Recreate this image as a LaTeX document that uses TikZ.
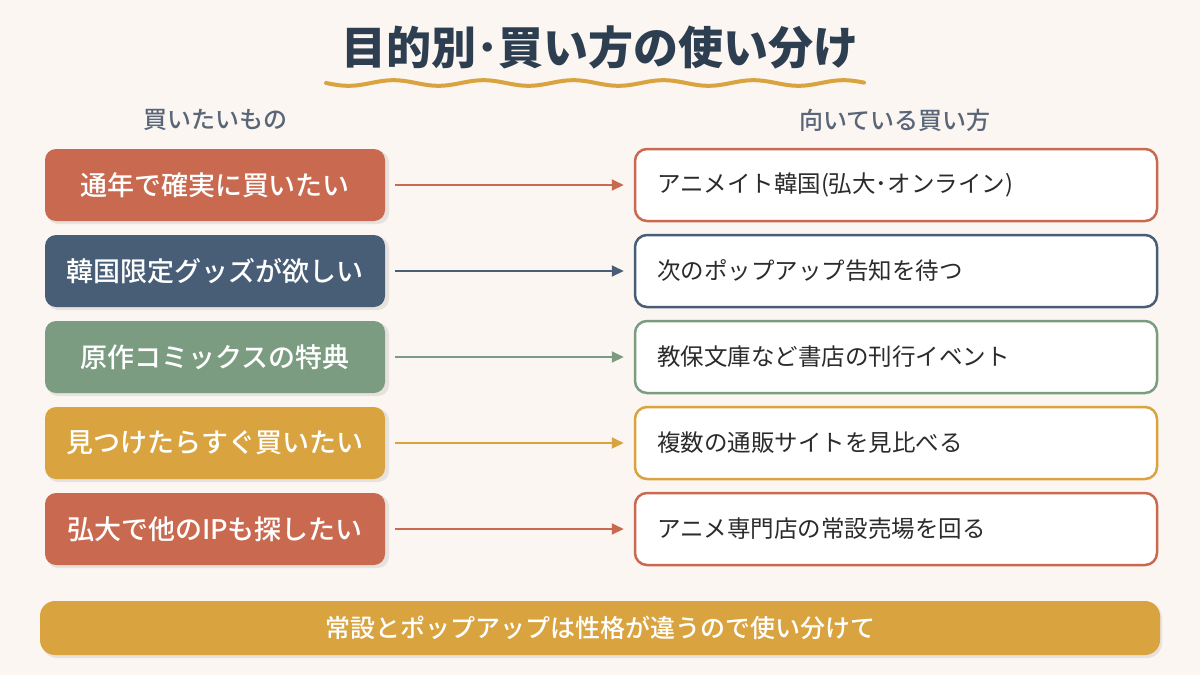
\documentclass[tikz,border=0pt]{standalone}
\usepackage{fontspec}
\setmainfont{Noto Sans CJK JP}
\newfontfamily\medfont{Noto Sans CJK JP Medium}
\usetikzlibrary{arrows.meta}
\definecolor{bg}{HTML}{FBF6F1}
\definecolor{terra}{HTML}{C96A50}
\definecolor{slate}{HTML}{485E77}
\definecolor{sage}{HTML}{7C9C82}
\definecolor{gold}{HTML}{D9A440}
\definecolor{titlec}{HTML}{2D3E50}
\definecolor{headc}{HTML}{5A6678}
\definecolor{txtc}{HTML}{2B2B2B}
\tikzset{
  leftbox/.style={fill=#1, rounded corners=11pt, minimum width=340pt, minimum height=72pt,
    inner sep=0pt, text=white, font=\medfont\fontsize{27}{31}\selectfont},
  rightbox/.style={draw=#1, line width=2.5pt, fill=white, rounded corners=12pt,
    minimum height=72pt, text width=478pt, inner xsep=22pt, align=left,
    text=txtc, font=\fontsize{23.5}{27}\selectfont},
  conn/.style={draw=#1, line width=2pt, shorten <=10pt, shorten >=10pt,
    -{Triangle[length=12pt,width=11pt]}},
  header/.style={text=headc, font=\medfont\fontsize{24}{28}\selectfont},
}
\begin{document}
\begin{tikzpicture}[x=1pt,y=-1pt]
\fill[bg] (0,0) rectangle (1200,675);
\useasboundingbox (0,0) rectangle (1200,675);
\node[text=titlec, font=\bfseries\fontsize{45}{50}\selectfont] (title) at (600,47) {目的別･買い方の使い分け};
\draw[gold, line width=4pt, line cap=round] plot[domain=326:864, samples=240, smooth] (\x,{83+2.8*sin((\x-326)*4)});
\node[header] (hl) at (215,120) {買いたいもの};
\node[header] (hr) at (895,120) {向いている買い方};
\foreach \i/\y/\c/\lt/\rt in {
  1/185/terra/通年で確実に買いたい/アニメイト韓国(弘大･オンライン),
  2/271/slate/韓国限定グッズが欲しい/次のポップアップ告知を待つ,
  3/357/sage/原作コミックスの特典/教保文庫など書店の刊行イベント,
  4/443/gold/見つけたらすぐ買いたい/複数の通販サイトを見比べる,
  5/529/terra/弘大で他のIPも探したい/アニメ専門店の常設売場を回る}{
  \fill[black, opacity=0.08, rounded corners=11pt] (47,\y-34) rectangle (389,\y+39);
  \node[leftbox=\c] (l\i) at (215,\y) {\lt};
  \node[rightbox=\c] (r\i) at (896,\y) {\rt};
  \draw[conn=\c] (l\i) -- (r\i);
}
\fill[black, opacity=0.08, rounded corners=15pt] (42,603) rectangle (1162,658);
\node[fill=gold, rounded corners=15pt, minimum width=1120pt, minimum height=54pt, inner sep=0pt,
  text=white, font=\medfont\fontsize{25}{29}\selectfont] (bar) at (600,628) {常設とポップアップは性格が違うので使い分けて};
\end{tikzpicture}
\end{document}
